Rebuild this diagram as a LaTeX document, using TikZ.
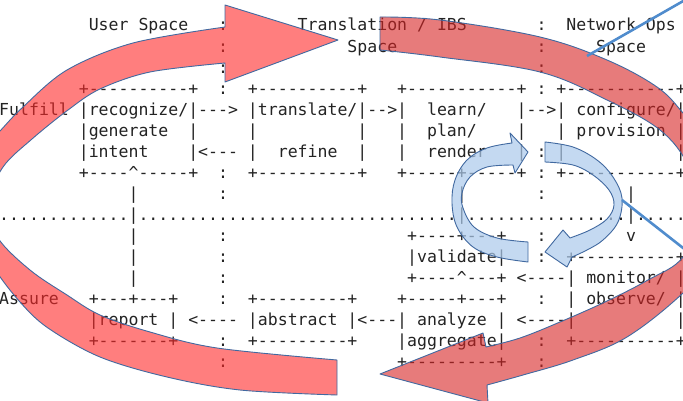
\documentclass[tikz,border=0pt]{standalone}
\usepackage{fontspec}
\newfontfamily\asciifont{DejaVu Sans Mono}[WordSpace={1,0,0}]
\definecolor{inkgray}{RGB}{35,35,35}
\definecolor{redfill}{RGB}{255,40,40}
\definecolor{rosefill}{RGB}{215,35,35}
\definecolor{edgeblue}{RGB}{65,105,160}
\definecolor{bluefill}{RGB}{172,202,236}
\definecolor{lineblue}{RGB}{80,140,205}
\tikzset{
  ascii/.style={anchor=base west, inner sep=0pt, outer sep=0pt, text=inkgray,
    font=\asciifont\fontsize{16.53}{20}\selectfont},
  bigarrow/.style={draw=edgeblue, line width=0.9pt, fill=#1, fill opacity=0.6, line join=round},
  smallarrow/.style={draw=edgeblue, line width=0.9pt, fill=bluefill, fill opacity=0.7, line join=round},
  callout/.style={draw=lineblue, line width=2.6pt}
}
% one text cell group: column, row, text
\newcommand\txt[3]{\node[ascii] (t#2-#1) at ({9.95*#1-0.8},{31+21.06*#2}) {#3};}
\newcommand\caret{\textasciicircum}
\begin{document}
\frenchspacing
\begin{tikzpicture}[x=1pt,y=-1pt]
\useasboundingbox (0,0) rectangle (683,401);
\clip (0,0) rectangle (683,401);
\fill[white] (0,0) rectangle (683,401);

% ---- column headings
\txt{9}{0}{User Space}  \txt{22}{0}{:} \txt{30}{0}{Translation / IBS} \txt{54}{0}{:} \txt{57}{0}{Network Ops}
\txt{22}{1}{:} \txt{35}{1}{Space} \txt{54}{1}{:} \txt{60}{1}{Space}
\txt{22}{2}{:} \txt{54}{2}{:}

% ---- fulfil row of boxes
\txt{8}{3}{+----------+} \txt{22}{3}{:} \txt{25}{3}{+----------+} \txt{40}{3}{+-----------+} \txt{54}{3}{:} \txt{56}{3}{+-----------+}
\txt{0}{4}{Fulfill} \txt{8}{4}{|recognize/|--->} \txt{25}{4}{|translate/|-->|} \txt{43}{4}{learn/} \txt{52}{4}{|-->|} \txt{58}{4}{configure/|}
\txt{8}{5}{|generate} \txt{19}{5}{|} \txt{25}{5}{|} \txt{36}{5}{|} \txt{40}{5}{|} \txt{43}{5}{plan/} \txt{52}{5}{|} \txt{56}{5}{|} \txt{58}{5}{provision} \txt{68}{5}{|}
\txt{8}{6}{|intent} \txt{19}{6}{|<---} \txt{25}{6}{|} \txt{28}{6}{refine} \txt{36}{6}{|} \txt{40}{6}{|} \txt{43}{6}{render} \txt{52}{6}{|} \txt{54}{6}{:} \txt{56}{6}{|} \txt{68}{6}{|}
\txt{8}{7}{+----\caret-----+} \txt{22}{7}{:} \txt{25}{7}{+----------+} \txt{40}{7}{+-----+-----+} \txt{54}{7}{:} \txt{56}{7}{+-----------+}
\txt{13}{8}{|} \txt{22}{8}{:} \txt{46}{8}{|} \txt{54}{8}{:} \txt{63}{8}{|}

% ---- dotted divider
\txt{0}{9}{.............} \txt{13}{9}{|} \txt{14}{9}{................................} \txt{46}{9}{|} \txt{47}{9}{................} \txt{63}{9}{|} \txt{64}{9}{.....}

% ---- assure row of boxes
\txt{13}{10}{|} \txt{22}{10}{:} \txt{41}{10}{+----+---+} \txt{54}{10}{:} \txt{63}{10}{v}
\txt{13}{11}{|} \txt{22}{11}{:} \txt{41}{11}{|validate|} \txt{54}{11}{:} \txt{57}{11}{+----------+}
\txt{13}{12}{|} \txt{22}{12}{:} \txt{41}{12}{+----\caret---+} \txt{52}{12}{<----|} \txt{59}{12}{monitor/} \txt{68}{12}{|}
\txt{0}{13}{Assure} \txt{9}{13}{+---+---+} \txt{22}{13}{:} \txt{25}{13}{+---------+} \txt{40}{13}{+-----+---+} \txt{54}{13}{:} \txt{57}{13}{|} \txt{59}{13}{observe/} \txt{68}{13}{|}
\txt{9}{14}{|report} \txt{17}{14}{|} \txt{19}{14}{<----} \txt{25}{14}{|abstract} \txt{35}{14}{|<---|} \txt{42}{14}{analyze} \txt{50}{14}{|} \txt{52}{14}{<----|} \txt{68}{14}{|}
\txt{9}{15}{+-------+} \txt{22}{15}{:} \txt{25}{15}{+---------+} \txt{40}{15}{|aggregate|} \txt{54}{15}{:} \txt{57}{15}{+----------+}
\txt{22}{16}{:} \txt{40}{16}{+---------+} \txt{54}{16}{:}

% ---- big red loop, left half: from the bottom round the left to the top
\path[bigarrow=redfill]
  plot[smooth, tension=0.55] coordinates {(337,395) (240,390) (167,377) (100,357) (48,328) (20,302) (-6,268) (-30,225) (-36,185) (-20,152) (0,131) (23,107) (67,70) (133,43) (225,27)}
  -- (225,5) -- (338,40) -- (225,82)
  -- plot[smooth, tension=0.55] coordinates {(225,63) (150,72) (100,89) (68,110) (32,139) (3,167) (-12,203) (-2,238) (30,270) (67,295) (100,315) (150,332) (217,348) (337,360)}
  -- cycle;

% ---- big red loop, right half: from the top round the right to the bottom
\path[bigarrow=rosefill]
  plot[smooth, tension=0.6] coordinates {(380,17) (440,20) (540,37) (607,60) (657,87) (683,113) (712,150) (732,200) (720,250) (683,293) (627,337) (573,360) (523,375) (487,385)}
  -- (488,403) -- (380,374) -- (483,333)
  -- plot[smooth, tension=0.6] coordinates {(486,347) (520,338) (560,322) (605,302) (648,280) (683,257) (701,210) (688,165) (660,130) (607,100) (540,72) (440,57) (380,50)}
  -- cycle;

% ---- small blue cycle, left arrow (up and to the right)
\path[smallarrow]
  plot[smooth, tension=0.6] coordinates {(528,262) (497,257) (473,247) (457,227) (452,203) (455,180) (467,160) (487,148) (512,143)}
  -- (510,133) -- (528,152) -- (515,173)
  -- plot[smooth, tension=0.6] coordinates {(513,165) (487,167) (470,177) (462,193) (463,208) (474,227) (497,238) (528,242)}
  -- cycle;

% ---- small blue cycle, right arrow (down and back to the left)
\path[smallarrow]
  plot[smooth, tension=0.6] coordinates {(545,142) (573,147) (597,160) (613,177) (622,198) (618,222) (603,240) (587,250) (572,257)}
  -- (567,267) -- (545,252) -- (563,230)
  -- plot[smooth, tension=0.6] coordinates {(570,238) (590,230) (607,219) (614,205) (609,190) (593,175) (573,165) (545,162)}
  -- cycle;

% ---- callout lines
\coordinate (c1a) at (692,-4);
\coordinate (c1b) at (587,56);
\coordinate (c2a) at (622,200);
\coordinate (c2b) at (692,255);
\draw[callout] (c1a) -- (c1b);
\draw[callout] (c2a) -- (c2b);
\end{tikzpicture}
\end{document}
